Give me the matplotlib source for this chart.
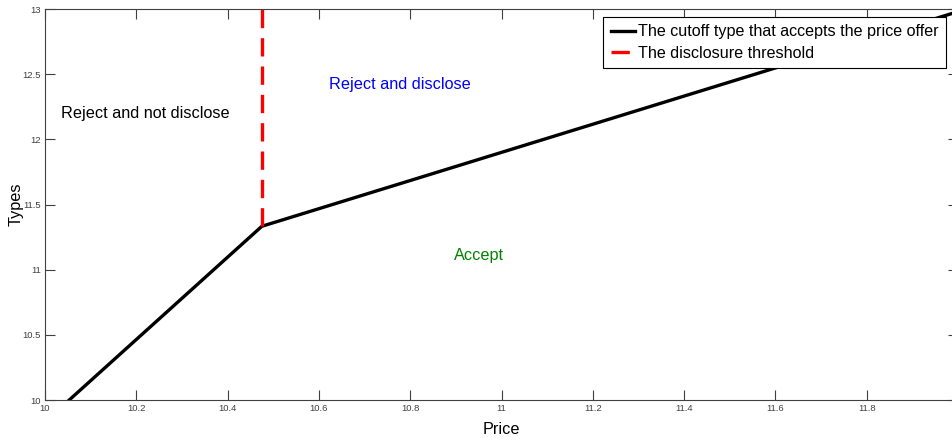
import matplotlib.pyplot as plt

# cutoff type curve (price, type) and disclosure threshold
price = [10.053, 10.475, 12.0]
types = [10.0, 11.333, 12.98]
thr_price = 10.475
thr_types = [11.333, 13.0]

xticks = [10, 10.2, 10.4, 10.6, 10.8, 11, 11.2, 11.4, 11.6, 11.8, 12]
yticks = [10, 10.5, 11, 11.5, 12, 12.5, 13]

plt.rcParams['font.family'] = ['Liberation Sans', 'DejaVu Sans']

fig = plt.figure(figsize=(9.52, 4.4), dpi=100)
ax = fig.add_axes([0.0473, 0.0909, 0.959, 0.8886])

ax.plot(price, types, color='black', lw=2.4,
        label='The cutoff type that accepts the price offer')
ax.plot([thr_price, thr_price], thr_types, color='red', lw=2.4,
        dashes=(5.5, 3), label='The disclosure threshold')

ax.text(10.219, 12.20, 'Reject and not disclose', fontsize=11.7,
        ha='center', va='center', color='black')
ax.text(10.778, 12.42, 'Reject and disclose', fontsize=11.7,
        ha='center', va='center', color='blue')
ax.text(10.951, 11.105, 'Accept', fontsize=11.7,
        ha='center', va='center', color='green')

ax.set_xlim(10, 12)
ax.set_ylim(10, 13)
ax.set_xticks(xticks)
ax.set_yticks(yticks)
ax.set_xticklabels([f'{v:g}' for v in xticks])
ax.set_yticklabels([f'{v:g}' for v in yticks])
ax.tick_params(direction='in', length=7, width=0.8, labelsize=6.8,
               colors='#404040', top=True, right=True, pad=3)
for s in ax.spines.values():
    s.set_color('#404040')
    s.set_linewidth(0.8)

ax.set_xlabel('Price', fontsize=11.7, labelpad=6)
ax.set_ylabel('Types', fontsize=11.7, labelpad=-1)

leg = ax.legend(loc='upper right', bbox_to_anchor=(946 / 952, 1 - 17 / 440),
                bbox_transform=fig.transFigure, fontsize=11.6, frameon=True,
                fancybox=False, edgecolor='black', framealpha=1,
                handlelength=1.5, handletextpad=0.2, borderpad=0.45,
                labelspacing=0.4, borderaxespad=0)
leg.get_frame().set_linewidth(0.8)

fig.savefig('out.png', dpi=100)
